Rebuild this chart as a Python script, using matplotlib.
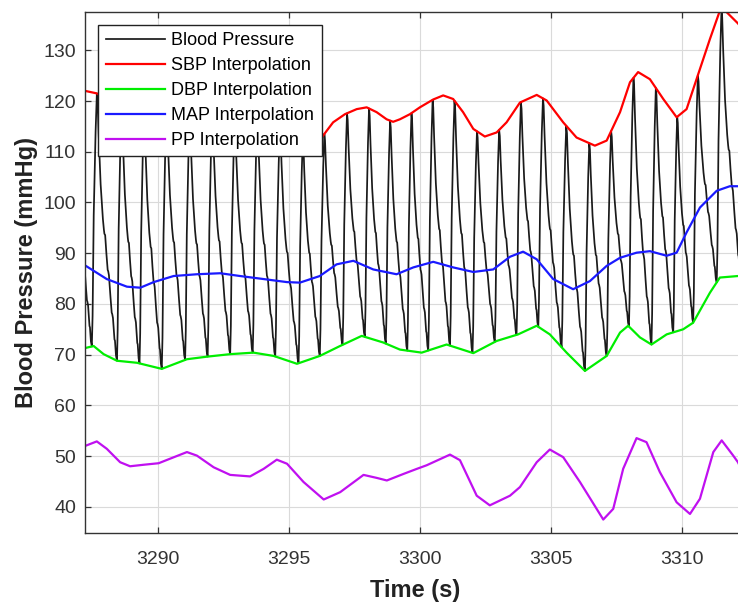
import matplotlib
matplotlib.use('Agg')
import matplotlib.pyplot as plt
import numpy as np

plt.rcParams.update({
    'font.family': ['Liberation Sans', 'DejaVu Sans'],
})

# ── data ──
# beat onsets (trough times, s)
beat_onsets = [3286.60, 3287.49, 3288.45, 3289.31, 3290.16, 3291.05, 3291.91, 3292.77,
               3293.63, 3294.49, 3295.38, 3296.19, 3297.06, 3297.91, 3298.71, 3299.53,
               3300.33, 3301.16, 3302.02, 3302.87, 3303.70, 3304.53, 3305.42, 3306.31,
               3307.14, 3307.99, 3308.85, 3309.68, 3310.44, 3311.34, 3312.25, 3313.10]

# SBP interpolation (time s, mmHg)
sbp_t = [3287.23, 3287.68, 3288.30, 3289.20, 3290.20, 3291.10, 3292.00, 3292.90, 3293.80,
         3294.70, 3295.60, 3296.26, 3296.70, 3297.15, 3297.60, 3297.98, 3298.36, 3298.74,
         3298.99, 3299.25, 3299.63, 3300.01, 3300.52, 3300.90, 3301.28, 3301.66, 3302.05,
         3302.49, 3302.94, 3303.32, 3303.83, 3304.47, 3304.85, 3305.48, 3305.99, 3306.69,
         3307.14, 3307.65, 3308.03, 3308.34, 3308.79, 3309.30, 3309.81, 3310.19, 3310.57,
         3311.08, 3311.44, 3311.58, 3311.72, 3312.15, 3312.42]
sbp_v = [122.0, 121.5, 119.5, 117.5, 118.5, 116.5, 117.5, 116.0, 116.5,
         114.5, 112.5, 112.8, 115.8, 117.4, 118.4, 118.75, 117.8, 116.4,
         115.9, 116.4, 117.4, 118.75, 120.3, 121.1, 120.4, 117.8, 114.5,
         113.0, 113.8, 115.8, 119.7, 121.2, 120.1, 115.8, 112.8, 111.2,
         112.2, 117.8, 123.7, 125.7, 124.3, 120.4, 116.8, 118.4, 124.3,
         132.2, 137.5, 138.5, 137.5, 135.3, 133.5]

# DBP interpolation
dbp_t = [3286.60, 3287.23, 3287.56, 3287.94, 3288.45, 3289.21, 3290.16, 3291.12, 3291.88,
         3292.77, 3293.66, 3294.43, 3295.32, 3296.19, 3296.96, 3297.79, 3298.61, 3299.25,
         3300.08, 3301.03, 3302.05, 3302.94, 3303.76, 3304.47, 3304.97, 3305.61, 3306.31,
         3307.14, 3307.65, 3307.96, 3308.41, 3308.85, 3309.43, 3310.06, 3310.44, 3311.08,
         3311.46, 3312.15, 3312.42]
dbp_v = [71.0, 71.3, 71.7, 70.1, 68.8, 68.4, 67.2, 69.1, 69.6,
         70.1, 70.4, 69.75, 68.2, 69.75, 71.7, 73.7, 72.4, 71.0,
         70.4, 72.0, 70.3, 72.7, 74.0, 75.7, 74.0, 70.4, 66.8,
         69.75, 74.35, 75.7, 73.4, 72.0, 74.0, 75.0, 76.3, 82.2,
         85.2, 85.5, 85.3]

# MAP interpolation
map_t = [3287.23, 3288.06, 3288.83, 3289.34, 3289.85, 3290.61, 3291.50, 3292.39, 3293.15,
         3294.05, 3294.94, 3295.43, 3296.19, 3296.83, 3297.47, 3298.23, 3299.12, 3299.76,
         3300.52, 3301.28, 3302.05, 3302.81, 3303.45, 3303.95, 3304.47, 3305.10, 3305.86,
         3306.50, 3307.14, 3307.65, 3308.28, 3308.79, 3309.43, 3309.81, 3310.19, 3310.70,
         3311.34, 3311.84, 3312.15, 3312.42]
map_v = [87.6, 84.9, 83.4, 83.2, 84.3, 85.5, 85.85, 86.05, 85.5,
         84.9, 84.3, 84.2, 85.5, 87.8, 88.5, 86.8, 85.85, 87.2,
         88.3, 87.2, 86.3, 86.8, 89.3, 90.3, 88.8, 84.9, 82.9,
         84.5, 87.5, 89.1, 90.1, 90.4, 89.5, 90.1, 94.1, 99.0,
         102.3, 103.2, 103.2, 103.0]

# PP interpolation
pp_t = [3287.23, 3287.68, 3288.06, 3288.57, 3288.95, 3289.47, 3290.04, 3290.48, 3291.12,
        3291.50, 3292.14, 3292.77, 3293.53, 3294.05, 3294.55, 3294.94, 3295.57, 3296.34,
        3296.97, 3297.86, 3298.37, 3298.75, 3299.39, 3299.90, 3300.27, 3301.16, 3301.54,
        3302.18, 3302.68, 3303.45, 3303.83, 3304.47, 3304.97, 3305.48, 3306.12, 3307.01,
        3307.39, 3307.77, 3308.28, 3308.66, 3309.17, 3309.81, 3310.32, 3310.70, 3311.21,
        3311.53, 3311.97, 3312.15, 3312.42]
pp_v = [52.0, 52.9, 51.45, 48.8, 48.0, 48.3, 48.6, 49.5, 50.8,
        50.1, 47.8, 46.3, 46.0, 47.5, 49.3, 48.5, 44.9, 41.45,
        42.9, 46.3, 45.7, 45.2, 46.5, 47.5, 48.2, 50.3, 49.2,
        42.2, 40.3, 42.2, 43.9, 48.8, 51.3, 49.8, 44.9, 37.5,
        39.6, 47.5, 53.55, 52.75, 46.85, 40.9, 38.6, 41.6, 50.8,
        53.1, 50.1, 48.8, 46.0]

# shape of one beat: fraction of the beat vs fraction of pulse pressure
tmpl_phase = [0.00, 0.03, 0.075, 0.15, 0.20, 0.23, 0.27, 0.35, 0.44, 0.48, 0.50, 0.53,
              0.58, 0.63, 0.65, 0.68, 0.74, 0.79, 0.81, 0.84, 0.90, 0.92, 0.96, 1.00]
tmpl_level = [0.00, 0.12, 0.52, 0.85, 1.00, 0.97, 0.85, 0.66, 0.53, 0.49, 0.475, 0.47,
              0.40, 0.34, 0.335, 0.32, 0.24, 0.18, 0.175, 0.16, 0.08, 0.075, 0.02, 0.00]
PEAK_PHASE = 0.20

# build the pressure trace beat by beat
ph = np.array(tmpl_phase[:-1])
lvl = np.array(tmpl_level[:-1])
bp_t, bp_v = [], []
for t0, t1 in zip(beat_onsets[:-1], beat_onsets[1:]):
    T = t1 - t0
    s = np.interp(t0 + PEAK_PHASE * T, sbp_t, sbp_v)
    d0 = np.interp(t0, dbp_t, dbp_v)
    d1 = np.interp(t1, dbp_t, dbp_v)
    d = np.where(ph <= PEAK_PHASE, d0, d1)
    bp_t.append(t0 + ph * T)
    bp_v.append(d + (s - d) * lvl)
bp_t = np.concatenate(bp_t)
bp_v = np.concatenate(bp_v)

# ── figure ──
fig = plt.figure(figsize=(7.38, 6.04), dpi=100)
ax = fig.add_axes([0.1152, 0.118, 0.8943, 0.8626])

kw = dict(linewidth=1.6, solid_joinstyle='round')
ax.plot(bp_t, bp_v, color='#1a1a1a', linewidth=1.25, label='Blood Pressure')
ax.plot(sbp_t, sbp_v, color='#ff0000', label='SBP Interpolation', **kw)
ax.plot(dbp_t, dbp_v, color='#00ee00', label='DBP Interpolation', **kw)
ax.plot(map_t, map_v, color='#1a1aff', label='MAP Interpolation', **kw)
ax.plot(pp_t, pp_v, color='#c010f0', label='PP Interpolation', **kw)

ax.set_xlim(3287.23, 3312.42)
ax.set_ylim(34.9, 137.6)
ax.set_xticks([3290, 3295, 3300, 3305, 3310])
ax.set_yticks(np.arange(40, 131, 10))

ax.grid(True, color='#dadada', linewidth=0.8)
ax.set_axisbelow(True)
ax.tick_params(direction='in', length=4.5, width=0.9, top=True, right=True,
               labelsize=14, labelcolor='#333333', color='#333333')
ax.tick_params(axis='x', pad=13)
ax.tick_params(axis='y', pad=6.5)
for sp in ax.spines.values():
    sp.set_color('#333333')
    sp.set_linewidth(1.0)

ax.set_xlabel('Time (s)', fontsize=17, fontweight='bold', color='#222222', labelpad=8)
ax.set_ylabel('Blood Pressure (mmHg)', fontsize=17, fontweight='bold', color='#222222', labelpad=4)

leg = ax.legend(loc='upper left', bbox_to_anchor=(0.0202, 0.9745), borderaxespad=0,
                fontsize=13, handlelength=3.3, handletextpad=0.35, labelspacing=0.44,
                borderpad=0.4, fancybox=False, framealpha=1, edgecolor='#222222')
leg.get_frame().set_linewidth(1.0)

plt.savefig('out.png', dpi=100)
